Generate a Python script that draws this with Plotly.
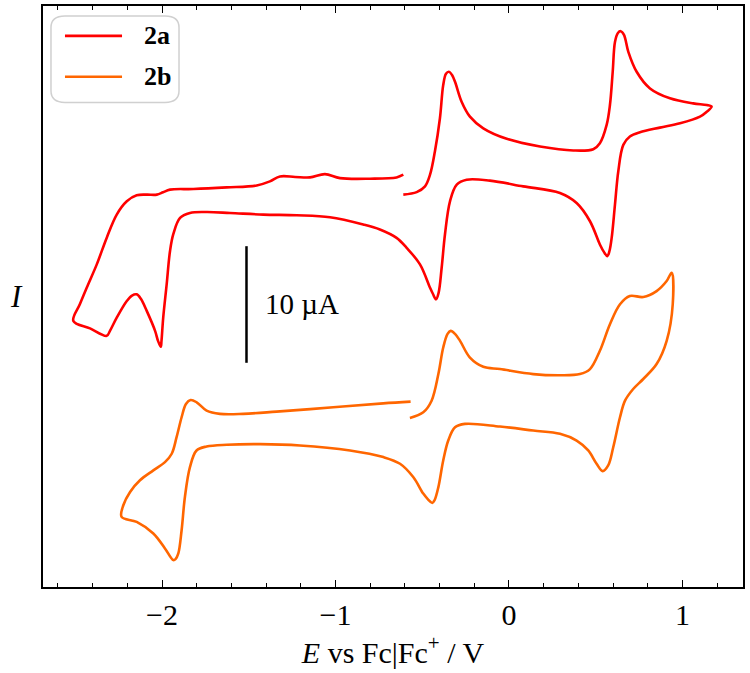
import plotly.graph_objects as go

# ---- data: potential (V vs Fc|Fc+) and current (µA, arbitrary offset) ----
E_2a = [-0.609, -0.532, -0.484, -0.455, -0.427, -0.398, -0.379, -0.363, -0.346, -0.329,
        -0.311, -0.273, -0.225, -0.148, -0.013, 0.179, 0.371, 0.486, 0.524, 0.563,
        0.582, 0.598, 0.611, 0.628, 0.644, 0.663, 0.688, 0.736, 0.813, 0.928,
        1.062, 1.140, 1.168, 1.141, 1.101, 0.986, 0.870, 0.755, 0.697, 0.659,
        0.630, 0.611, 0.592, 0.579, 0.567, 0.548, 0.524, 0.467, 0.390, 0.294,
        0.082, -0.110, -0.244, -0.301, -0.340, -0.369, -0.388, -0.406, -0.421, -0.438,
        -0.455, -0.513, -0.590, -0.648, -0.744, -0.840, -1.032, -1.224, -1.416, -1.608,
        -1.743, -1.839, -1.896, -1.935, -1.954, -1.973, -1.993, -2.003, -2.007, -2.023,
        -2.040, -2.088, -2.121, -2.146, -2.173, -2.203, -2.261, -2.300, -2.319, -2.415,
        -2.511, -2.473, -2.434, -2.376, -2.319, -2.261, -2.203, -2.146, -2.088, -2.030,
        -1.994, -1.954, -1.819, -1.627, -1.454, -1.378, -1.320, -1.233, -1.147, -1.061,
        -0.974, -0.801, -0.648, -0.609]
I_2a = [33.65, 33.87, 34.36, 35.36, 37.35, 40.20, 43.05, 44.02, 44.19, 43.93,
        43.33, 41.62, 40.34, 39.34, 38.44, 37.78, 37.44, 37.55, 38.06, 39.63,
        41.34, 44.19, 46.75, 47.52, 47.67, 47.35, 45.90, 44.19, 42.76, 41.91,
        41.48, 41.34, 41.20, 40.77, 40.34, 39.77, 39.40, 39.00, 38.63, 37.92,
        35.64, 32.79, 29.94, 28.80, 28.38, 28.72, 29.38, 31.37, 32.93, 33.79,
        34.36, 34.85, 34.93, 34.50, 33.08, 30.23, 27.38, 25.21, 24.68, 25.13,
        25.67, 27.67, 29.09, 29.94, 30.66, 31.09, 31.71, 31.88, 31.94, 32.08,
        32.16, 32.08, 31.65, 30.26, 28.80, 25.98, 23.10, 21.11, 20.60, 21.11,
        21.97, 23.68, 24.70, 25.10, 25.00, 24.53, 23.10, 21.97, 21.54, 22.18,
        22.82, 24.27, 25.67, 27.67, 29.94, 31.94, 33.08, 33.59, 33.65, 33.65,
        33.85, 34.08, 34.13, 34.27, 34.44, 34.79, 35.21, 35.17, 35.13, 35.41,
        35.07, 35.02, 35.13, 35.36]

E_2b = [-0.571, -0.494, -0.446, -0.407, -0.379, -0.354, -0.336, -0.311, -0.282, -0.225,
        -0.148, -0.052, 0.140, 0.294, 0.409, 0.467, 0.524, 0.582, 0.640, 0.697,
        0.774, 0.851, 0.909, 0.938, 0.944, 0.909, 0.851, 0.774, 0.716, 0.669,
        0.640, 0.601, 0.572, 0.540, 0.505, 0.457, 0.390, 0.294, 0.140, -0.052,
        -0.254, -0.311, -0.350, -0.379, -0.407, -0.429, -0.442, -0.467, -0.494, -0.552,
        -0.628, -0.724, -0.916, -1.205, -1.435, -1.627, -1.743, -1.801, -1.839, -1.868,
        -1.887, -1.906, -1.922, -1.935, -1.983, -2.050, -2.146, -2.233, -2.223, -2.184,
        -2.127, -2.050, -1.983, -1.944, -1.916, -1.887, -1.862, -1.835, -1.800, -1.743,
        -1.666, -1.532, -1.340, -1.013, -0.725, -0.567]
I_2b = [14.50, 14.98, 15.98, 18.26, 20.54, 21.71, 21.97, 21.71, 21.11, 19.68,
        18.89, 18.69, 18.26, 18.16, 18.26, 18.69, 20.26, 22.54, 24.25, 24.96,
        24.87, 25.38, 26.24, 26.95, 24.25, 21.11, 19.12, 17.84, 16.98, 15.98,
        14.56, 11.99, 10.43, 9.94, 10.57, 11.71, 12.56, 13.14, 13.42, 13.76,
        13.99, 13.70, 12.56, 10.85, 8.57, 7.44, 7.21, 7.52, 8.01, 9.43,
        10.57, 11.14, 11.71, 12.14, 12.25, 12.20, 12.05, 11.71, 10.28, 7.72,
        4.87, 2.88, 2.39, 2.31, 3.31, 4.59, 5.58, 6.01, 7.01, 8.15,
        9.15, 10.00, 10.71, 11.43, 12.85, 14.56, 15.70, 16.04, 15.84, 15.13,
        14.85, 14.85, 15.04, 15.41, 15.75, 15.90]

series_names = ["2a", "2b"]
series_colors = ["#ff0000", "#ff6600"]

# scale bar: 10 µA
bar_E = [-1.513, -1.513]
bar_I = [19.23, 29.23]
bar_label = "10 µA"

x_range = [-2.686, 1.349]
y_range = [0, 49.83]
x_ticks = [-2, -1, 0, 1]
x_ticklabels = ["\u22122", "\u22121", "0", "1"]

FONT = "Liberation Serif, Times New Roman, serif"

fig = go.Figure()
for E, I, name, col in [(E_2a, I_2a, series_names[0], series_colors[0]),
                        (E_2b, I_2b, series_names[1], series_colors[1])]:
    fig.add_trace(go.Scatter(x=E, y=I, mode="lines", name=name,
                             line=dict(color=col, width=2.6, shape="spline", smoothing=1.0),
                             showlegend=False))

fig.add_trace(go.Scatter(x=bar_E, y=bar_I, mode="lines",
                         line=dict(color="black", width=2.5), showlegend=False,
                         hoverinfo="skip"))

fig.add_annotation(x=bar_E[0] + 0.095, y=(bar_I[0] + bar_I[1]) / 2, text=bar_label,
                   showarrow=False, xanchor="left", yanchor="middle",
                   font=dict(family=FONT, size=29, color="black"))

# manual legend (box + line samples + bold labels)
fig.add_shape(type="path", xref="paper", yref="paper",
              path="M 0.0314,0.983 L 0.1743,0.983 Q 0.1943,0.983 0.1943,0.963 "
                   "L 0.1943,0.854 Q 0.1943,0.834 0.1743,0.834 L 0.0314,0.834 "
                   "Q 0.0114,0.834 0.0114,0.854 L 0.0114,0.963 Q 0.0114,0.983 0.0314,0.983 Z",
              line=dict(color="#d0d0d0", width=1.5), fillcolor="rgba(255,255,255,0.8)")
for k, (name, col) in enumerate(zip(series_names, series_colors)):
    yp = 0.9485 - k * 0.0703
    fig.add_shape(type="line", xref="paper", yref="paper",
                  x0=0.0314, x1=0.1129, y0=yp, y1=yp,
                  line=dict(color=col, width=2.6))
    fig.add_annotation(xref="paper", yref="paper", x=0.1414, y=yp, text=f"<b>{name}</b>",
                       showarrow=False, xanchor="left", yanchor="middle",
                       font=dict(family=FONT, size=26, color="black"))

# y-axis label "I"
fig.add_annotation(xref="paper", yref="paper", x=-0.038, y=0.5, text="<i>I</i>",
                   showarrow=False, xanchor="center", yanchor="middle",
                   font=dict(family=FONT, size=31, color="black"))

fig.update_xaxes(range=x_range, tickvals=x_ticks, ticktext=x_ticklabels,
                 ticks="inside", ticklen=7, tickwidth=1.3, tickcolor="black",
                 minor=dict(dtick=0.2, tick0=0, ticks="inside", ticklen=4,
                            tickwidth=1, tickcolor="black"),
                 showline=True, linecolor="black", linewidth=1.5, mirror="ticks",
                 showgrid=False, zeroline=False,
                 tickfont=dict(family=FONT, size=30, color="black"),
                 title=dict(text="<i>E</i> vs Fc|Fc<sup>+</sup> / V",
                            font=dict(family=FONT, size=30, color="black"),
                            standoff=12))
fig.update_yaxes(range=y_range, showticklabels=False, ticks="",
                 showline=True, linecolor="black", linewidth=1.5, mirror=True,
                 showgrid=False, zeroline=False)

fig.update_layout(width=750, height=673, margin=dict(l=43, r=7, t=4, b=86),
                  paper_bgcolor="white", plot_bgcolor="white")

fig.write_html("out.html")
